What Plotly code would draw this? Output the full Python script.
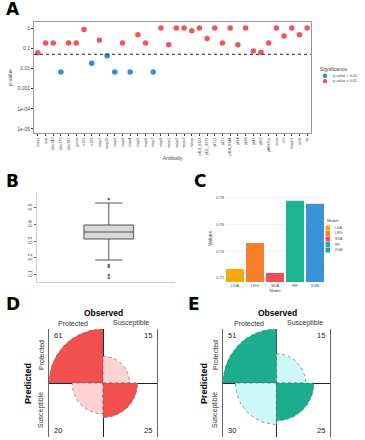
import numpy as np
import plotly.graph_objects as go

W, H = 365, 440
FONT = "Liberation Sans"

# ---------------- Panel A data ----------------
antibodies = ["ama1", "asp", "eba140", "eba175", "eba181", "gama", "h101", "h103",
              "msp1", "msp10", "msp2", "msp3", "msp4", "msp5", "msp6", "msp7", "msp9",
              "msrp1", "msrp2", "msrp3", "mtrap", "pf10_0323", "pf11_0373", "pf113",
              "pf12", "pf14_0344", "pf34", "pf38", "pf41", "pf92", "pff0335c", "rama",
              "rh5", "rhoph3", "ron6", "tlp"]
p_values = [0.06, 0.18, 0.18, 0.0066, 0.18, 0.18, 0.86, 0.018, 0.25, 0.042, 0.0066,
            0.18, 0.0066, 0.47, 0.18, 0.0066, 1.0, 0.15, 1.0, 1.0, 0.74, 1.0, 0.30,
            1.0, 0.18, 1.0, 0.15, 1.0, 0.074, 0.063, 0.18, 1.0, 0.40, 1.0, 0.47, 1.0]
threshold = 0.05
a_ticks = [1, 0.1, 0.01, 0.001, 1e-4, 1e-5]
a_ticktext = ["1", "0.1", "0.01", "0.001", "1e-04", "1e-05"]
sig_names = ["p-value < 0.05", "p-value \u2265 0.05"]
sig_colors = ["#2C8FD8", "#F45454"]

# ---------------- Panel B data ----------------
b_q1, b_median, b_q3 = 0.312, 0.354, 0.396
b_lower, b_upper = 0.186, 0.528
b_outliers = [0.552, 0.156, 0.144, 0.096, 0.078]
b_ticks = [0.1, 0.2, 0.3, 0.4, 0.5]

# ---------------- Panel C data ----------------
models = ["LDA", "LRG", "SDA", "RF", "XGB"]
model_values = [0.7267, 0.7462, 0.7237, 0.7777, 0.7754]
model_colors = ["#F7A712", "#F57F2A", "#F24E55", "#1BB58F", "#3A93D8"]
c_ticks = [0.72, 0.74, 0.76, 0.78]

# ---------------- Panels D / E data ----------------
fourfold_labels = ["Protected", "Susceptible"]
counts_D = [61, 15, 20, 25]   # TL, TR, BL, BR
counts_E = [51, 15, 30, 25]
colors_D = ("#F24F4F", "#FDD2D2")
colors_E = ("#1AAE8E", "#CDF8F8")

fig = go.Figure()

def px_x(x):
    return x / W

def px_y(y):
    return 1 - y / H

# ---------------- Panel A ----------------
pos = list(range(1, len(antibodies) + 1))
sig = [p < threshold for p in p_values]
for k, flag in enumerate([True, False]):
    fig.add_trace(go.Scatter(
        x=[pos[i] for i in range(len(pos)) if sig[i] == flag],
        y=[p_values[i] for i in range(len(pos)) if sig[i] == flag],
        mode="markers", marker=dict(size=5.5, color=sig_colors[k]),
        name=sig_names[k], showlegend=False, xaxis="x", yaxis="y"))
fig.add_trace(go.Scatter(
    x=[0.5, len(antibodies) + 0.5], y=[threshold, threshold], mode="lines",
    line=dict(color="#222", width=1, dash="dot"), showlegend=False,
    hoverinfo="skip", xaxis="x", yaxis="y"))

# ---------------- Panel B ----------------
fig.add_trace(go.Box(
    x=[1], q1=[b_q1], median=[b_median], q3=[b_q3],
    lowerfence=[b_lower], upperfence=[b_upper],
    width=0.45, whiskerwidth=0.55, fillcolor="#D8D8D8",
    line=dict(color="#555", width=1), showlegend=False,
    xaxis="x2", yaxis="y2", boxpoints=False))
fig.add_trace(go.Scatter(
    x=[1] * len(b_outliers), y=b_outliers, mode="markers",
    marker=dict(size=2.5, color="#666"), showlegend=False,
    xaxis="x2", yaxis="y2"))

# ---------------- Panel C ----------------
for m, v, c in zip(models, model_values, model_colors):
    fig.add_trace(go.Bar(
        x=[m], y=[v], marker=dict(color=c, line=dict(width=0)), width=0.9,
        name=m, showlegend=False, xaxis="x3", yaxis="y3"))

# ---------------- Panels D / E ----------------
def quarter(sx, sy, r, n=40):
    if sx < 0 and sy > 0:
        a0, a1 = np.pi / 2, np.pi
    elif sx > 0 and sy > 0:
        a0, a1 = 0, np.pi / 2
    elif sx < 0 and sy < 0:
        a0, a1 = np.pi, 1.5 * np.pi
    else:
        a0, a1 = 1.5 * np.pi, 2 * np.pi
    t = np.linspace(a0, a1, n)
    xs = np.concatenate([[0], r * np.cos(t), [0]])
    ys = np.concatenate([[0], r * np.sin(t), [0]])
    return xs, ys

signs = [(-1, 1), (1, 1), (-1, -1), (1, -1)]
for counts, cols, xa, ya in [(counts_D, colors_D, "x4", "y4"), (counts_E, colors_E, "x5", "y5")]:
    mx = max(counts)
    for i, (cnt, (sx, sy)) in enumerate(zip(counts, signs)):
        r = np.sqrt(cnt / mx)
        xs, ys = quarter(sx, sy, r)
        col = cols[0] if i in (0, 3) else cols[1]
        fig.add_trace(go.Scatter(
            x=xs, y=ys, fill="toself", fillcolor=col, mode="lines",
            line=dict(color="#555", width=0.6, dash="dot"),
            showlegend=False, hoverinfo="skip", xaxis=xa, yaxis=ya))
        fig.add_annotation(x=0.95 * sx, y=0.88 * sy, xref=xa, yref=ya, text=str(cnt),
                           showarrow=False, font=dict(size=7.5, color="#222", family=FONT),
                           xanchor="right" if sx > 0 else "left", yanchor="middle")

# ---------------- Layout ----------------
tickfont_small = dict(size=5, color="#444", family=FONT)
layout = dict(
    width=W, height=H, margin=dict(l=0, r=0, t=0, b=0),
    paper_bgcolor="white", plot_bgcolor="white",
    font=dict(family=FONT), showlegend=False,
    xaxis=dict(domain=[px_x(34), px_x(311)], anchor="y", range=[0.5, len(antibodies) + 0.5],
               tickvals=pos, ticktext=antibodies, tickangle=-90,
               tickfont=dict(size=3.8, color="#444", family=FONT),
               ticks="outside", ticklen=2, tickcolor="#333",
               showline=True, mirror=True, linecolor="#999", linewidth=1,
               showgrid=False, zeroline=False,
               title=dict(text="Antibody", font=dict(size=5, color="#444"), standoff=2)),
    yaxis=dict(domain=[px_y(133), px_y(22)], anchor="x", type="log", range=[-5.2, 0.3],
               tickvals=a_ticks, ticktext=a_ticktext, tickfont=tickfont_small,
               ticks="outside", ticklen=2, tickcolor="#333",
               showline=True, mirror=True, linecolor="#999", linewidth=1,
               showgrid=False, zeroline=False,
               title=dict(text="p-value", font=dict(size=5, color="#444"), standoff=4)),
    xaxis2=dict(domain=[px_x(37), px_x(175)], anchor="y2", range=[0.35, 1.6],
                showticklabels=False, ticks="", showline=True, linecolor="#ccc",
                showgrid=False, zeroline=False),
    yaxis2=dict(domain=[px_y(282), px_y(193)], anchor="x2", range=[0.054, 0.588],
                tickvals=b_ticks, tickangle=-90, tickfont=tickfont_small,
                ticks="outside", ticklen=2, tickcolor="#555",
                showline=True, linecolor="#ccc", showgrid=False, zeroline=False),
    xaxis3=dict(domain=[px_x(225), px_x(325)], anchor="y3",
                tickfont=dict(size=4, color="#444", family=FONT), ticks="", showline=False,
                showgrid=False, zeroline=False,
                title=dict(text="Model", font=dict(size=4, color="#444"), standoff=1)),
    yaxis3=dict(domain=[px_y(282), px_y(195)], anchor="x3", range=[0.717, 0.782],
                tickvals=c_ticks, tickformat=".2f",
                tickfont=dict(size=4, color="#444", family=FONT),
                showgrid=True, gridcolor="#f0f0f0", zeroline=False, showline=False,
                title=dict(text="Values", font=dict(size=5, color="#444"), standoff=3)),
    xaxis4=dict(domain=[px_x(49), px_x(157)], anchor="y4", range=[-1, 1],
                showticklabels=False, showgrid=False, zeroline=True, zerolinecolor="#222",
                zerolinewidth=1, showline=False),
    yaxis4=dict(domain=[px_y(437), px_y(329)], anchor="x4", range=[-1, 1],
                showticklabels=False, showgrid=False, zeroline=True, zerolinecolor="#222",
                zerolinewidth=1, showline=True, mirror=True, linecolor="#666", linewidth=1),
    xaxis5=dict(domain=[px_x(223), px_x(330)], anchor="y5", range=[-1, 1],
                showticklabels=False, showgrid=False, zeroline=True, zerolinecolor="#222",
                zerolinewidth=1, showline=False),
    yaxis5=dict(domain=[px_y(437), px_y(329)], anchor="x5", range=[-1, 1],
                showticklabels=False, showgrid=False, zeroline=True, zerolinecolor="#222",
                zerolinewidth=1, showline=True, mirror=True, linecolor="#666", linewidth=1),
    bargap=0.1,
)
fig.update_layout(**layout)

# ---------------- manual legends (compact, like ggplot) ----------------
def paper_text(x, y, text, size=4.2, color="#444", xanchor="left", angle=0, family=FONT):
    fig.add_annotation(x=px_x(x), y=px_y(y), xref="paper", yref="paper", text=text,
                       showarrow=False, xanchor=xanchor, yanchor="middle", textangle=angle,
                       font=dict(size=size, color=color, family=family))

paper_text(318, 69, "Significance", size=5)
for k, (nm, col) in enumerate(zip(sig_names, sig_colors)):
    yc = 75.7 + 5.4 * k
    fig.add_shape(type="circle", xref="paper", yref="paper",
                  x0=px_x(322.8), x1=px_x(327.2), y0=px_y(yc + 2.2), y1=px_y(yc - 2.2),
                  fillcolor=col, line=dict(width=0))
    paper_text(331, yc, nm, size=3.8)

paper_text(325, 220.5, "Model", size=4.2)
for k, (nm, col) in enumerate(zip(models, model_colors)):
    yc = 228 + 5.5 * k
    fig.add_shape(type="rect", xref="paper", yref="paper",
                  x0=px_x(325.5), x1=px_x(330), y0=px_y(yc + 2.5), y1=px_y(yc - 2.5),
                  fillcolor=col, line=dict(width=0))
    paper_text(333, yc, nm, size=3.6)

# panel letters
for letter, x, y in [("A", 4, 9), ("B", 4, 181), ("C", 192, 181), ("D", 4, 304), ("E", 186, 304)]:
    paper_text(x, y, f"<b>{letter}</b>", size=17, color="black", family="DejaVu Sans")

# fourfold labels
for cx, left_c, right_c in [(103, 73, 131), (277, 249, 305)]:
    paper_text(cx, 313, "<b>Observed</b>", size=8.5, color="black", xanchor="center")
    paper_text(left_c, 323, fourfold_labels[0], size=7, color="#333", xanchor="center")
    paper_text(right_c, 323, fourfold_labels[1], size=7, color="#333", xanchor="center")
for px_pred, px_lab in [(28, 41), (204, 215)]:
    paper_text(px_pred, 384, "<b>Predicted</b>", size=9, color="black", xanchor="center", angle=-90)
    paper_text(px_lab, 355, fourfold_labels[0], size=7, color="#333", xanchor="center", angle=-90)
    paper_text(px_lab, 410, fourfold_labels[1], size=7, color="#333", xanchor="center", angle=-90)

fig.write_html("out.html", config={"displayModeBar": False},
               post_script="document.body.style.margin='0';document.body.style.overflow='hidden';")
